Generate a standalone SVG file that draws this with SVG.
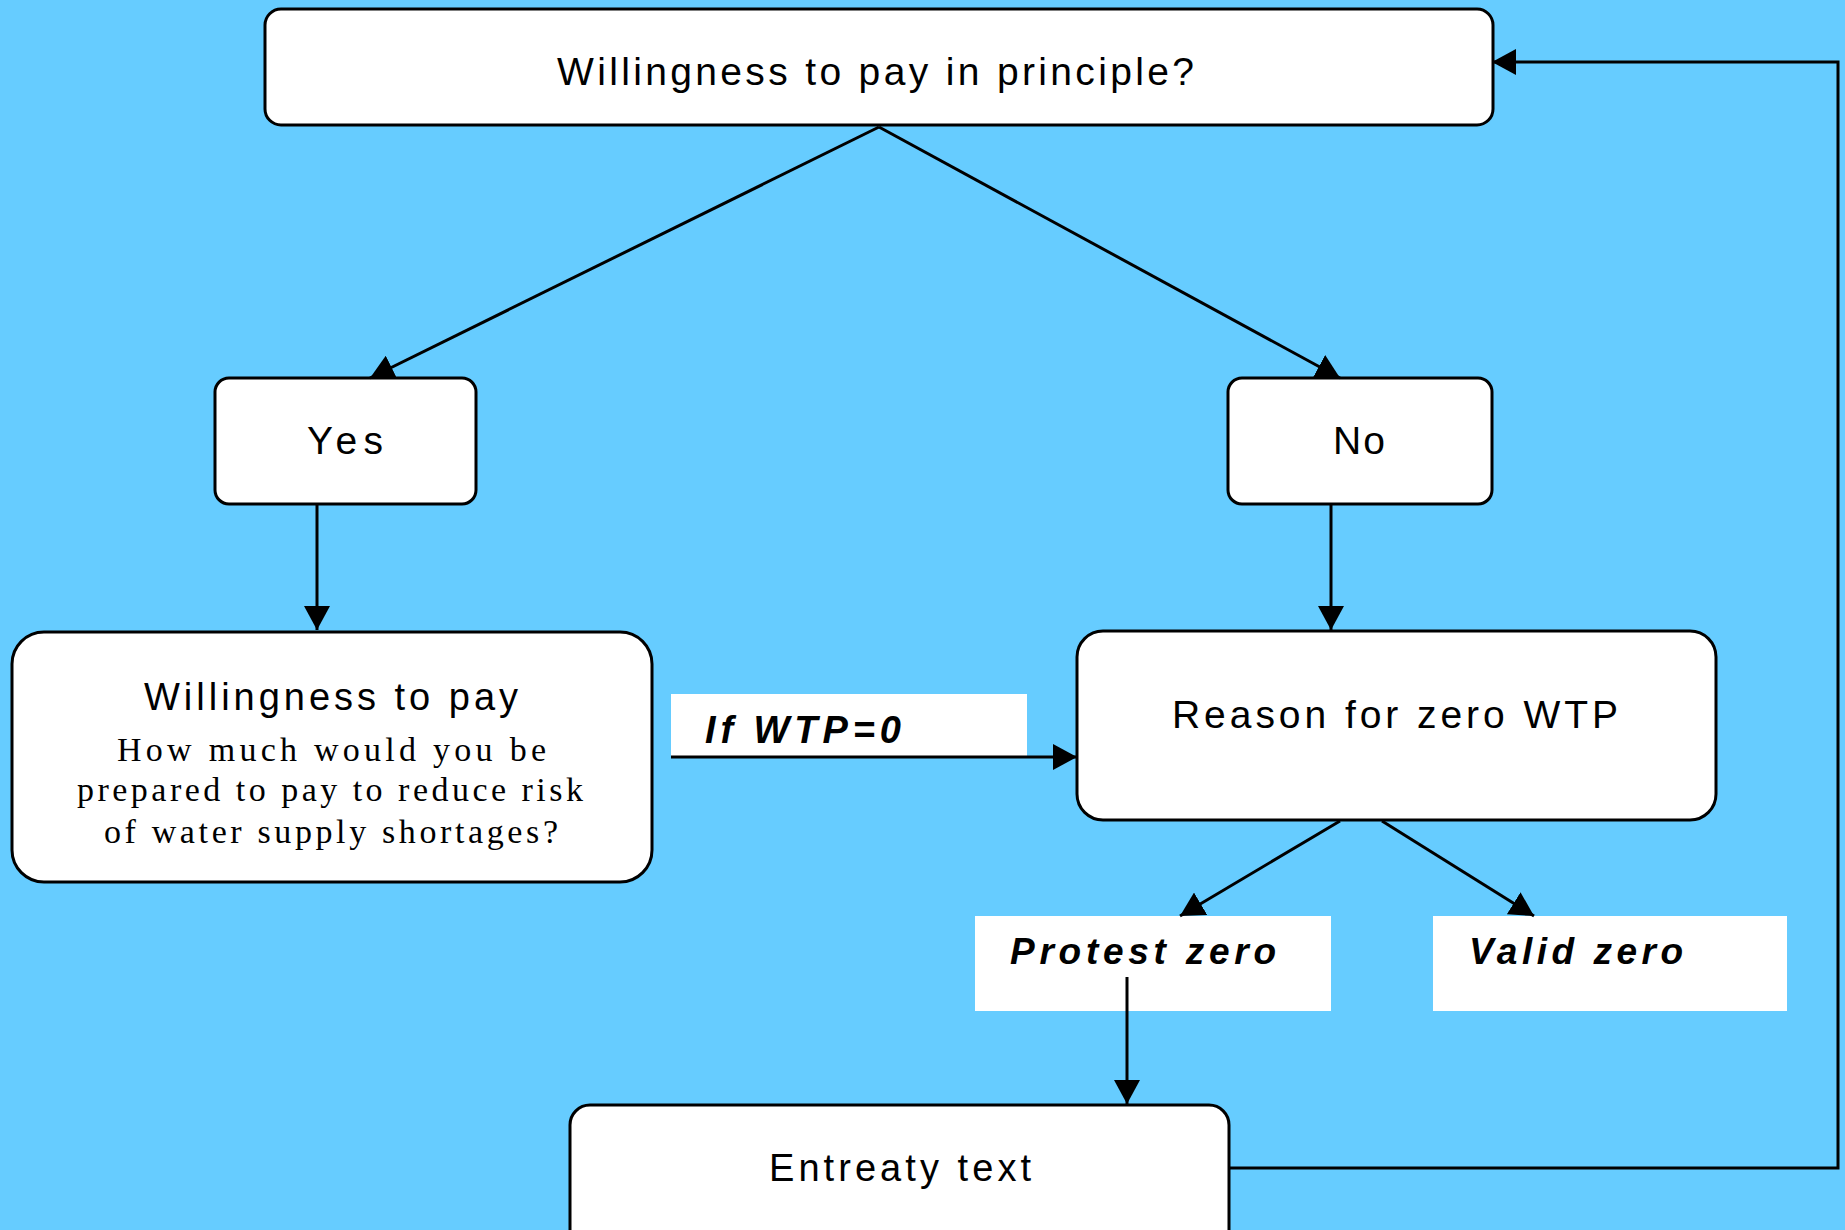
<svg xmlns="http://www.w3.org/2000/svg" width="1845" height="1230" viewBox="0 0 1845 1230">
<style>
.box{fill:#fff;stroke:#000;stroke-width:3}
.lbl{fill:#fff;stroke:none}
.t{font-family:"Liberation Sans",Arial,sans-serif;fill:#000}
.s{font-family:"Liberation Serif","Times New Roman",serif;fill:#000;font-size:34px}
.bi{font-family:"Liberation Sans",Arial,sans-serif;font-weight:bold;font-style:italic;fill:#000}
.c{fill:none;stroke:#000;stroke-width:3}
</style>
<defs>
<marker id="arr" markerUnits="userSpaceOnUse" viewBox="0 0 24 26" refX="24" refY="13" markerWidth="24" markerHeight="26" orient="auto">
<path d="M0,0 L24,13 L0,26 z" fill="#000"/>
</marker>
</defs>
<rect width="1845" height="1230" fill="#66ccff"/>
<g id="node-principle">
<rect class="box" x="265" y="9" width="1228" height="116" rx="16"/>
<text class="t" x="557" y="85" font-size="39" textLength="637" lengthAdjust="spacing">Willingness to pay in principle?</text>
</g>
<g id="node-yes">
<rect class="box" x="215" y="378" width="261" height="126" rx="14"/>
<text class="t" x="307" y="454" font-size="39" textLength="76" lengthAdjust="spacing">Yes</text>
</g>
<g id="node-no">
<rect class="box" x="1228" y="378" width="264" height="126" rx="14"/>
<text class="t" x="1333" y="454" font-size="39" textLength="52" lengthAdjust="spacing">No</text>
</g>
<g id="node-wtp">
<rect class="box" x="12" y="632" width="640" height="250" rx="32"/>
<text class="t" x="144" y="710" font-size="38" textLength="374" lengthAdjust="spacing">Willingness to pay</text>
<text class="s" x="117" y="761" textLength="429" lengthAdjust="spacing">How much would you be</text>
<text class="s" x="77" y="801" textLength="506" lengthAdjust="spacing">prepared to pay to reduce risk</text>
<text class="s" x="104" y="843" textLength="454" lengthAdjust="spacing">of water supply shortages?</text>
</g>
<g id="node-ifwtp0">
<rect class="lbl" x="671" y="694" width="356" height="63"/>
<text class="bi" x="705" y="743" font-size="38" textLength="196" lengthAdjust="spacing">If WTP=0</text>
</g>
<g id="node-reason">
<rect class="box" x="1077" y="631" width="639" height="189" rx="26"/>
<text class="t" x="1172" y="728" font-size="39" textLength="446" lengthAdjust="spacing">Reason for zero WTP</text>
</g>
<g id="node-protest">
<rect class="lbl" x="975" y="916" width="356" height="95"/>
<text class="bi" x="1010" y="964" font-size="37" textLength="266" lengthAdjust="spacing">Protest zero</text>
</g>
<g id="node-valid">
<rect class="lbl" x="1433" y="916" width="354" height="95"/>
<text class="bi" x="1469" y="964" font-size="37" textLength="214" lengthAdjust="spacing">Valid zero</text>
</g>
<g id="node-entreaty">
<rect class="box" x="570" y="1105" width="659" height="160" rx="20"/>
<text class="t" x="769" y="1181" font-size="38" textLength="262" lengthAdjust="spacing">Entreaty text</text>
</g>
<g id="connectors">
<path class="c" d="M879,127 L370,378" marker-end="url(#arr)"/>
<path class="c" d="M879,127 L1340,378" marker-end="url(#arr)"/>
<path class="c" d="M317,505 L317,630" marker-end="url(#arr)"/>
<path class="c" d="M1331,505 L1331,630" marker-end="url(#arr)"/>
<path class="c" d="M671,757 L1077,757" marker-end="url(#arr)"/>
<path class="c" d="M1340,821 L1180,916" marker-end="url(#arr)"/>
<path class="c" d="M1382,821 L1534,916" marker-end="url(#arr)"/>
<path class="c" d="M1127,977 L1127,1104" marker-end="url(#arr)"/>
<path class="c" d="M1229,1168 L1838,1168 L1838,62 L1492,62" marker-end="url(#arr)"/>
</g>
</svg>
